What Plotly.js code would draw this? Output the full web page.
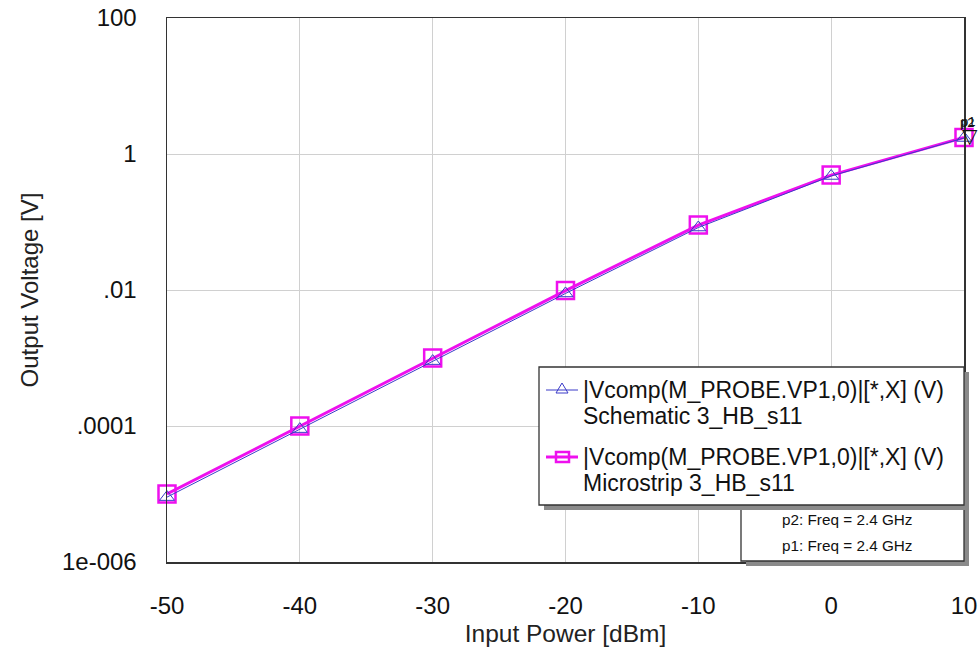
<!DOCTYPE html>
<html>
<head>
<meta charset="utf-8">
<script src="https://cdn.plot.ly/plotly-3.0.1.min.js"></script>
<style>
html,body{margin:0;padding:0;background:#fff;}
#chart{width:979px;height:648px;}
</style>
</head>
<body>
<div id="chart"></div>
<script>
// ---- data ----
const inputPower = [-50, -40, -30, -20, -10, 0, 10];
const schematic = [0.9e-5, 0.9e-4, 0.9e-3, 0.0089, 0.083, 0.475, 1.72];
const microstrip = [1.0e-5, 1.0e-4, 1.0e-3, 0.0098, 0.09, 0.49, 1.75];
const yTickVals = [1e-6, 1e-4, 1e-2, 1, 100];
const yTickText = ['1e-006', '.0001', '.01', '1', '100'];
const xTickVals = [-50, -40, -30, -20, -10, 0, 10];
const legendLine1 = '|Vcomp(M_PROBE.VP1,0)|[*,X] (V)';
const legendNames = ['Schematic 3_HB_s11', 'Microstrip 3_HB_s11'];
const markerTexts = ['p2: Freq = 2.4 GHz', 'p1: Freq = 2.4 GHz'];

// ---- layout helpers (pixel -> paper) ----
const W = 979, H = 648;
const L = 167, R = 964, T = 18, B = 562;
const px = x => (x - L) / (R - L);
const py = y => (B - y) / (B - T);
const FONT = 'Liberation Sans, Arial, sans-serif';
const BLUE = '#3a3ac8';
const MAG = '#ee10ee';

const traces = [
  {
    x: inputPower, y: microstrip, type: 'scatter', mode: 'lines+markers',
    line: {color: MAG, width: 3},
    marker: {symbol: 'square-open', size: 17, color: MAG, line: {width: 2.5, color: MAG}},
    showlegend: false, cliponaxis: false
  },
  {
    x: inputPower, y: schematic, type: 'scatter', mode: 'lines+markers',
    line: {color: BLUE, width: 1},
    marker: {symbol: 'triangle-up-open', size: 13, color: BLUE, line: {width: 1, color: BLUE}},
    showlegend: false, cliponaxis: false
  }
];

const shapes = [];
const annotations = [];

// legend box with shadow
function boxWithShadow(x0, y0, x1, y1) {
  shapes.push({type: 'rect', xref: 'paper', yref: 'paper', x0: px(x0 + 5), x1: px(x1 + 5), y0: py(y1 + 5), y1: py(y0 + 5),
    fillcolor: '#8a8a8a', line: {width: 0}, layer: 'above'});
  shapes.push({type: 'rect', xref: 'paper', yref: 'paper', x0: px(x0), x1: px(x1), y0: py(y1), y1: py(y0),
    fillcolor: '#ffffff', line: {width: 1.3, color: '#333'}, layer: 'above'});
}
boxWithShadow(741, 505, 964, 561);
boxWithShadow(539, 367, 964, 505);

// legend symbols
shapes.push({type: 'line', xref: 'paper', yref: 'paper', x0: px(546), x1: px(578), y0: py(390), y1: py(390), line: {color: BLUE, width: 1}, layer: 'above'});
shapes.push({type: 'path', xref: 'paper', yref: 'paper',
  path: `M ${px(556)} ${py(393)} L ${px(568)} ${py(393)} L ${px(562)} ${py(383)} Z`,
  line: {color: BLUE, width: 1}, layer: 'above'});
shapes.push({type: 'line', xref: 'paper', yref: 'paper', x0: px(546), x1: px(578), y0: py(457), y1: py(457), line: {color: MAG, width: 3}, layer: 'above'});
shapes.push({type: 'rect', xref: 'paper', yref: 'paper', x0: px(556), x1: px(569), y0: py(462), y1: py(452),
  line: {color: MAG, width: 2.5}, layer: 'above'});

function txt(text, x, y, size, xanchor) {
  annotations.push({text: text, xref: 'paper', yref: 'paper', x: px(x), y: py(y), showarrow: false,
    xanchor: xanchor || 'left', yanchor: 'middle', font: {family: FONT, size: size, color: '#111'}});
}
txt(legendLine1, 581, 390, 23);
txt(legendNames[0], 581, 416, 23);
txt(legendLine1, 581, 457, 23);
txt(legendNames[1], 581, 483, 23);
txt(markerTexts[0], 847, 519, 15.3, 'center');
txt(markerTexts[1], 847, 545, 15.3, 'center');

// p1/p2 marker at last point
const lastX = inputPower[inputPower.length - 1];
const lastY = microstrip[microstrip.length - 1];
annotations.push({text: '▽', x: lastX, y: Math.log10(lastY), xref: 'x', yref: 'y', showarrow: false,
  xanchor: 'center', yanchor: 'middle', xshift: 6, yshift: 1, font: {family: 'DejaVu Sans', size: 20, color: '#111'}});
annotations.push({text: 'p2', x: lastX, y: Math.log10(lastY), xref: 'x', yref: 'y', showarrow: false,
  xanchor: 'center', yanchor: 'bottom', xshift: 3, yshift: 5, font: {family: FONT, size: 13, color: '#111'}});
annotations.push({text: 'p1', x: lastX, y: Math.log10(lastY), xref: 'x', yref: 'y', showarrow: false,
  xanchor: 'center', yanchor: 'bottom', xshift: 4, yshift: 6, font: {family: FONT, size: 13, color: '#111'}});

const layout = {
  width: W, height: H,
  margin: {l: L, r: W - R, t: T, b: H - B},
  paper_bgcolor: '#fff', plot_bgcolor: '#fff',
  font: {family: FONT, color: '#111'},
  showlegend: false,
  xaxis: {
    range: [-50, 10], tickvals: xTickVals, ticktext: xTickVals.map(String),
    showgrid: true, gridcolor: '#d0d0d0', gridwidth: 1,
    showline: true, linecolor: '#333', linewidth: 1.5, mirror: true,
    zeroline: false, ticks: '', ticklabelstandoff: 22,
    tickfont: {family: FONT, size: 24, color: '#111'},
    title: {text: 'Input Power [dBm]', font: {family: FONT, size: 24.5, color: '#222'}, standoff: 6}
  },
  yaxis: {
    type: 'log', range: [-6, 2], tickvals: yTickVals, ticktext: yTickText,
    showgrid: true, gridcolor: '#d0d0d0', gridwidth: 1,
    showline: true, linecolor: '#333', linewidth: 1.5, mirror: true,
    zeroline: false, ticks: '', ticklabelstandoff: 24,
    tickfont: {family: FONT, size: 24, color: '#111'},
    title: {text: 'Output Voltage [V]', font: {family: FONT, size: 24, color: '#222'}, standoff: 16}
  },
  shapes: shapes,
  annotations: annotations
};

Plotly.newPlot('chart', traces, layout, {displayModeBar: false, staticPlot: true});
</script>
</body>
</html>
